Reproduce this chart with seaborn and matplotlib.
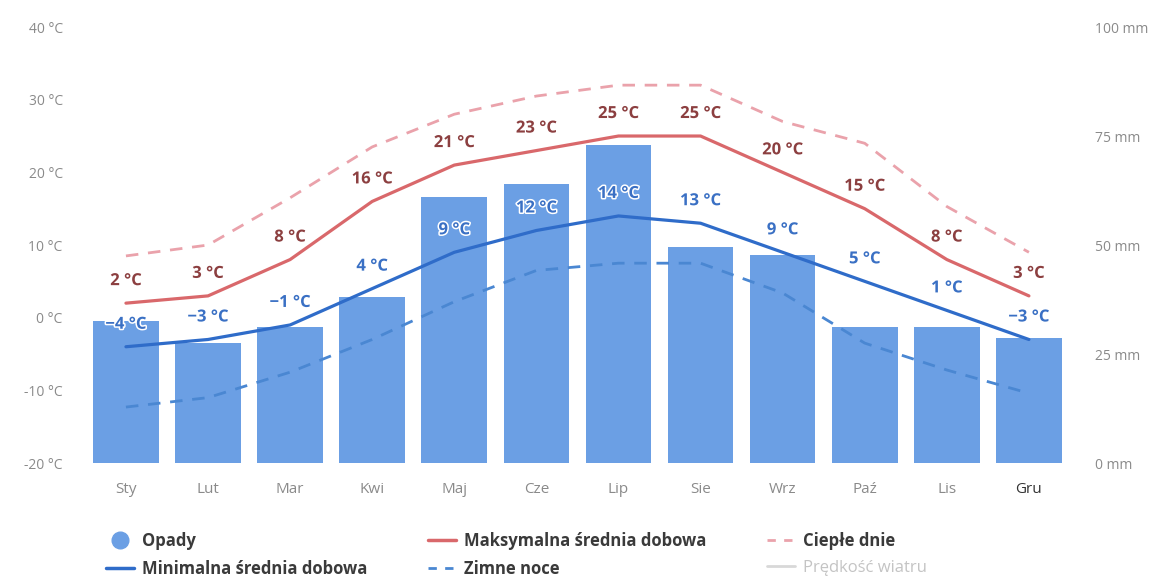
import numpy as np
import pandas as pd
import matplotlib
matplotlib.use("Agg")
import matplotlib.pyplot as plt
import matplotlib.patheffects as pe
from matplotlib.lines import Line2D
import seaborn as sns

# Data
months = ["Sty", "Lut", "Mar", "Kwi", "Maj", "Cze", "Lip", "Sie", "Wrz", "Paź", "Lis", "Gru"]
opady = [32.6, 27.5, 31.2, 38, 61, 64, 72.9, 49.5, 47.7, 31.2, 31.2, 28.7]      # mm
t_max = [2, 3, 8, 16, 21, 23, 25, 25, 20, 15, 8, 3]                              # °C
t_min = [-4, -3, -1, 4, 9, 12, 14, 13, 9, 5, 1, -3]                              # °C
cieple_dnie = [8.5, 10, 16.5, 23.5, 28, 30.5, 32, 32, 27, 24, 15.3, 9]          # °C
zimne_noce = [-12.3, -11, -7.5, -3, 2.2, 6.5, 7.5, 7.5, 3.4, -3.5, -7.2, -10.4]  # °C

temp_ticks = [-20, -10, 0, 10, 20, 30, 40]
rain_ticks = [0, 25, 50, 75, 100]

c_bar = "#6b9fe4"
c_max = "#d9686b"
c_max_txt = "#8c3f40"
c_warm = "#eaa2ab"
c_min = "#2f6cc9"
c_min_txt = "#3a70c4"
c_cold = "#4a87d2"
c_tick = "#8a8a8a"

sns.set_theme(style="white")
plt.rcParams["font.family"] = ["Open Sans", "DejaVu Sans"]

df = pd.DataFrame({"miesiac": months, "opady": opady, "pos": np.arange(len(months)),
                   "tmax": t_max, "tmin": t_min, "warm": cieple_dnie, "cold": zimne_noce})

fig = plt.figure(figsize=(11.63, 5.80), dpi=100)
ax = fig.add_axes([0.073, 0.2017, 0.847, 0.7517])
ax2 = ax.twinx()

# precipitation bars on the right axis
sns.barplot(data=df, x="miesiac", y="opady", ax=ax2, color=c_bar, width=0.8,
            saturation=1, edgecolor="none")

# temperature lines on the left axis
dash = (0, (4.5, 3.5))
sns.lineplot(data=df, x="pos", y="warm", ax=ax, color=c_warm, lw=2, linestyle=dash)
sns.lineplot(data=df, x="pos", y="cold", ax=ax, color=c_cold, lw=2, linestyle=dash)
sns.lineplot(data=df, x="pos", y="tmax", ax=ax, color=c_max, lw=2.3)
sns.lineplot(data=df, x="pos", y="tmin", ax=ax, color=c_min, lw=2.3)

halo = [pe.withStroke(linewidth=2.2, foreground="white")]
for i, (hi, lo) in enumerate(zip(t_max, t_min)):
    ax.annotate(f"{hi} °C".replace("-", "−"), (i, hi), xytext=(0, 23),
                textcoords="offset pixels", ha="center", va="center",
                fontsize=12, fontweight="bold", color=c_max_txt, path_effects=halo)
    ax.annotate(f"{lo} °C".replace("-", "−"), (i, lo), xytext=(0, 23),
                textcoords="offset pixels", ha="center", va="center",
                fontsize=12, fontweight="bold", color=c_min_txt, path_effects=halo)

ax.set_zorder(ax2.get_zorder() + 1)
ax.patch.set_visible(False)

ax.set_xlim(-0.5, len(months) - 0.5)
ax.set_ylim(-20, 40)
ax2.set_ylim(0, 100)
ax.set_yticks(temp_ticks)
ax.set_yticklabels([f"{t} °C" for t in temp_ticks])
ax2.set_yticks(rain_ticks)
ax2.set_yticklabels([f"{r} mm" for r in rain_ticks])
ax.set_xticks(range(len(months)))
ax.set_xticklabels(months)

for a in (ax, ax2):
    a.set_xlabel("")
    a.set_ylabel("")
    a.grid(False)
    for s in a.spines.values():
        s.set_visible(False)
    a.tick_params(length=0, labelsize=10, labelcolor=c_tick)
ax.tick_params(axis="y", pad=16)
ax2.tick_params(axis="y", pad=18)
ax.tick_params(axis="x", pad=14, labelsize=11)
ax.get_xticklabels()[-1].set_color("#333333")

handles = [
    Line2D([], [], marker="o", ls="none", color=c_bar, markersize=12),
    Line2D([], [], color=c_min, lw=2.5),
    Line2D([], [], color=c_max, lw=2.5),
    Line2D([], [], color=c_cold, lw=2, linestyle=(0, (3, 3))),
    Line2D([], [], color=c_warm, lw=2, linestyle=(0, (3, 3))),
    Line2D([], [], color="#d8d8d8", lw=2),
]
labels = ["Opady", "Minimalna średnia dobowa", "Maksymalna średnia dobowa",
          "Zimne noce", "Ciepłe dnie", "Prędkość wiatru"]
leg = fig.legend(handles, labels, loc="upper left", bbox_to_anchor=(0.078, 0.109),
                 ncol=3, frameon=False, handlelength=1.7, handletextpad=0.5,
                 columnspacing=3.6, labelspacing=0.6,
                 prop={"size": 12, "weight": "bold"})
for t in leg.get_texts():
    t.set_color("#3a3a3a")
leg.get_texts()[-1].set_color("#c4c4c4")
leg.get_texts()[-1].set_fontweight("normal")

fig.savefig("out.png", dpi=100, facecolor="white")
